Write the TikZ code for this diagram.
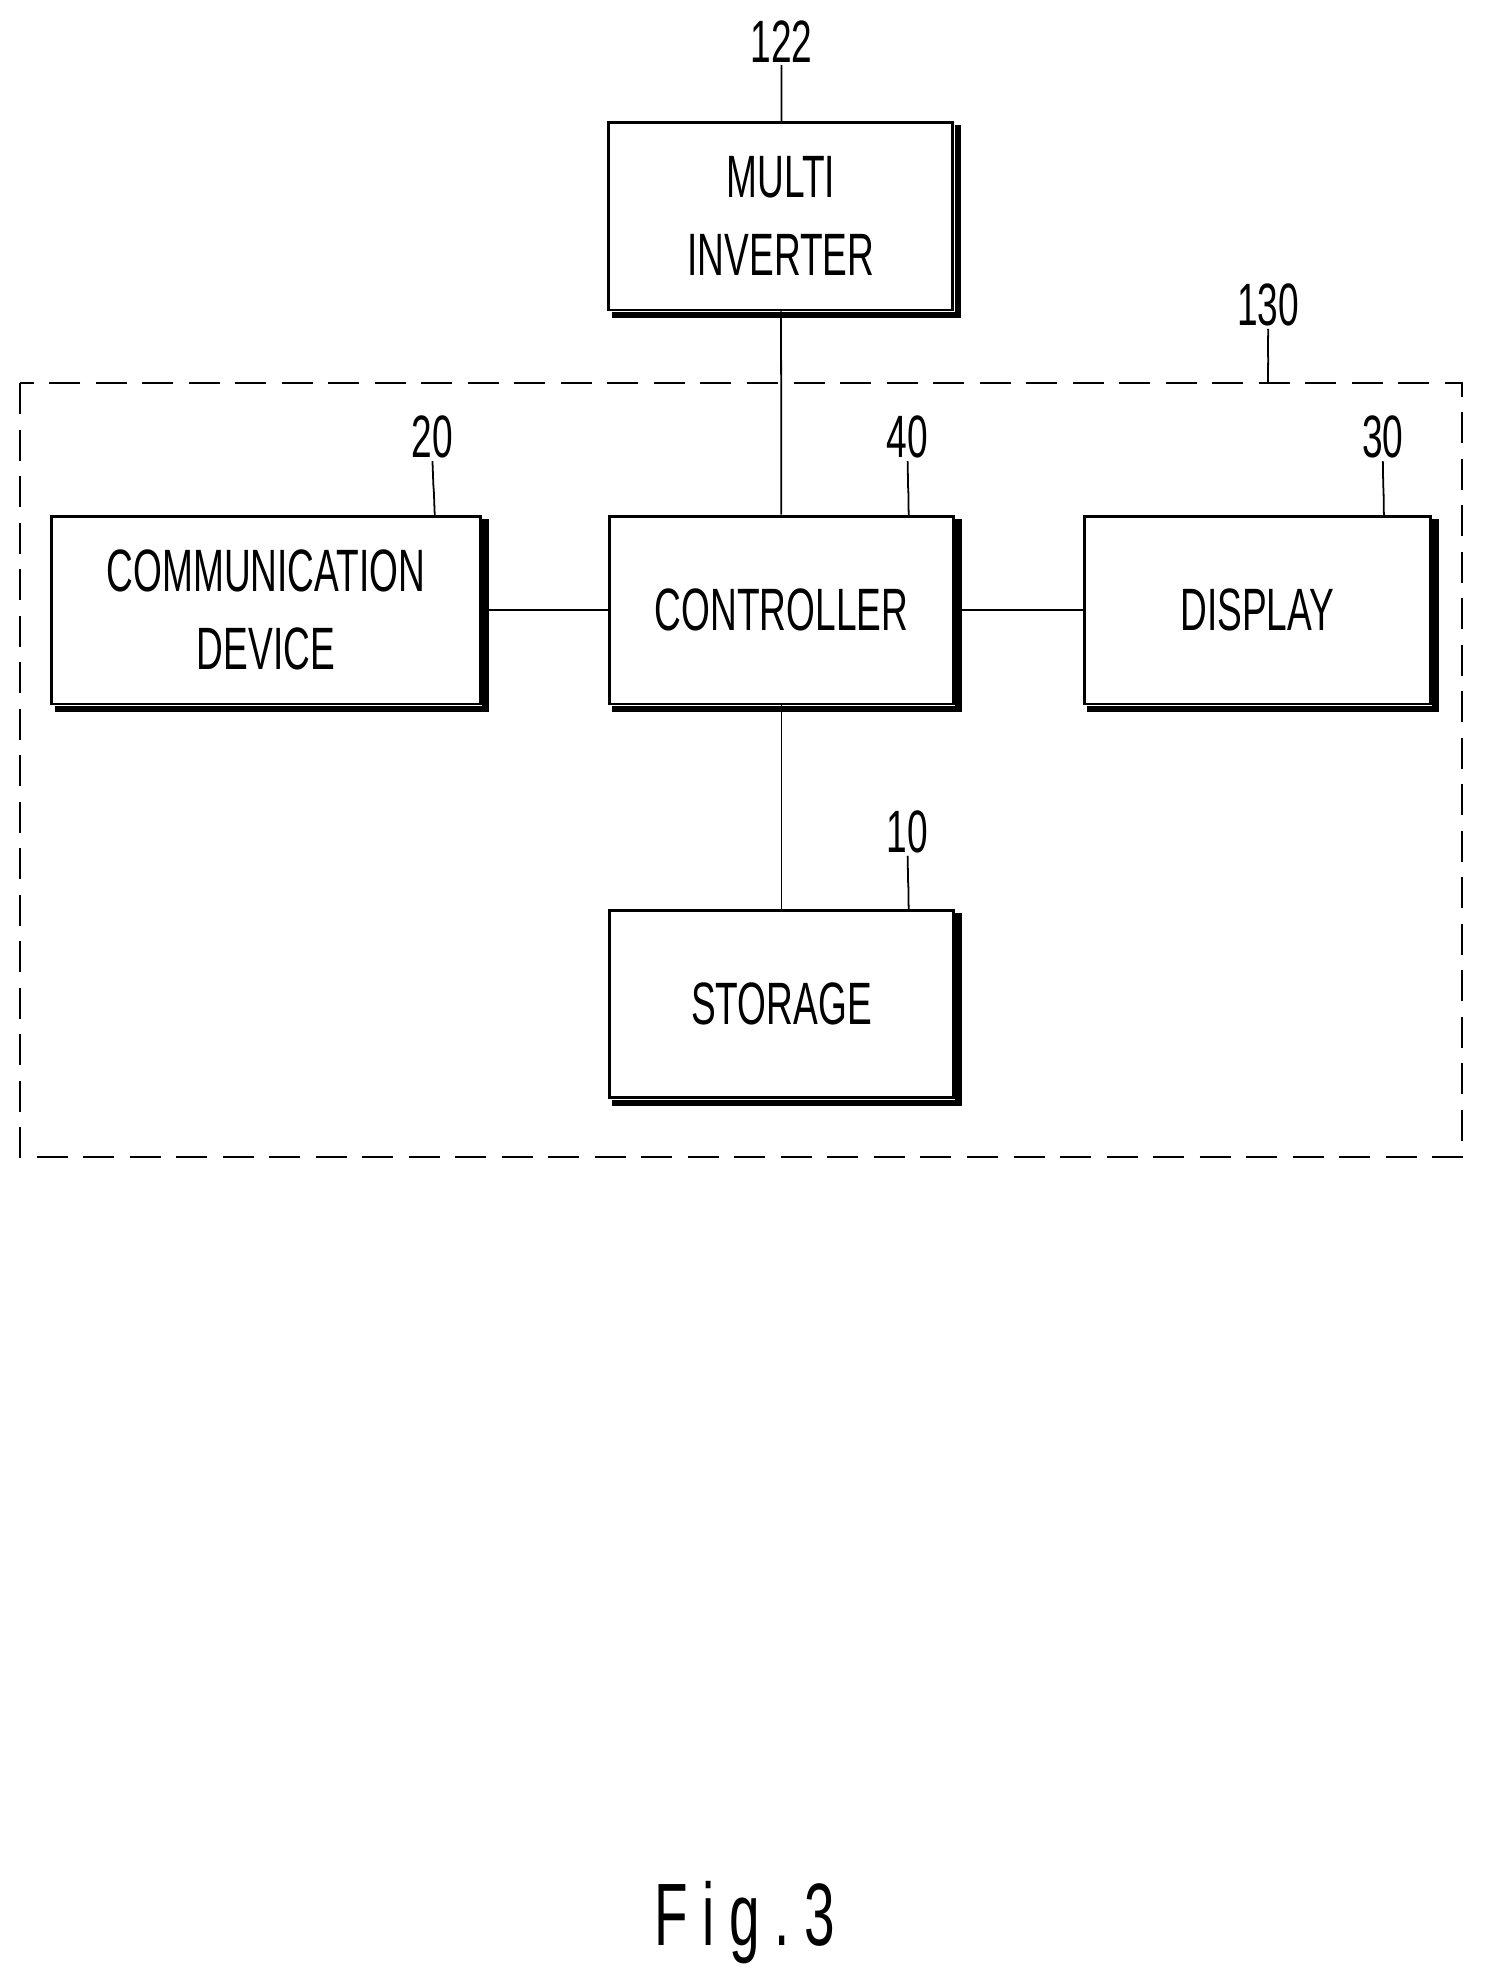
\documentclass[tikz,border=0pt]{standalone}
\usepackage{fontspec}
\newfontfamily\blockfont[FakeStretch=0.62]{Liberation Sans}
\usetikzlibrary{positioning}
\tikzset{
  block/.style={draw, line width=1.3pt, minimum width=5.46cm, minimum height=2.98cm,
    align=center, font=\blockfont\fontsize{27}{35}\selectfont, inner sep=0pt},
  refnum/.style={font=\blockfont\fontsize{27}{30}\selectfont, inner sep=1pt},
  lead/.style={line width=0.8pt},
  conn/.style={line width=0.8pt}
}
\newcommand{\dropshade}[1]{%
  \draw[line width=3pt] ([xshift=2pt,yshift=-1.6pt]#1.south west) -- ([xshift=1.6pt,yshift=-1.6pt]#1.south east)
    -- ([xshift=1.6pt,yshift=-2pt]#1.north east);}
\newcommand{\squig}[2]{%
  \draw[lead] (#1.south) .. controls +(0.25,-0.3) and +(-0.25,0.2) .. ($(#1.south)!0.5!(#2)$)
    .. controls +(0.25,-0.2) and +(-0.25,0.3) .. (#2);}
\usetikzlibrary{calc}
\begin{document}
\begin{tikzpicture}[x=0.02cm,y=-0.02cm]
  \useasboundingbox (0,0) rectangle (1181,1574);

  % outer dashed frame
  \draw[line width=0.9pt, dash pattern=on 14pt off 7pt] (16,304) rectangle (1160,918);

  \node[block] (inv) at (619.5,171.5) {MULTI\\INVERTER};
  \node[block] (ctrl) at (620,484) {CONTROLLER};
  \node[block, minimum width=6.8cm] (comm) at (211,484) {COMMUNICATION\\DEVICE};
  \node[block, minimum width=5.5cm] (disp) at (997.5,484) {DISPLAY};
  \node[block] (stor) at (620,796.5) {STORAGE};

  \foreach \b in {inv,ctrl,comm,disp,stor} {\dropshade{\b}}

  \draw[conn] (inv) -- (ctrl);
  \draw[conn] (comm) -- (ctrl);
  \draw[conn] (ctrl) -- (disp);
  \draw[conn] (ctrl) -- (stor);

  % reference numbers
  \node[refnum] (n122) at (620,33) {122};
  \node[refnum] (n130) at (1006,242) {130};
  \node[refnum] (n20) at (343,347) {20};
  \node[refnum] (n40) at (720,347) {40};
  \node[refnum] (n30) at (1097,347) {30};
  \node[refnum] (n10) at (720,660) {10};

  \coordinate (t122) at (620,97);
  \coordinate (t130) at (1006,304);
  \coordinate (t20) at (345,409);
  \coordinate (t40) at (721,409);
  \coordinate (t30) at (1098,409);
  \coordinate (t10) at (721,722);
  \foreach \n in {122,130,20,40,30,10} {\squig{n\n}{t\n}}

  \node[font=\blockfont\fontsize{40}{44}\selectfont] (fig) at (591,1525) {F\,i\,g\,.\,3};
\end{tikzpicture}
\end{document}
